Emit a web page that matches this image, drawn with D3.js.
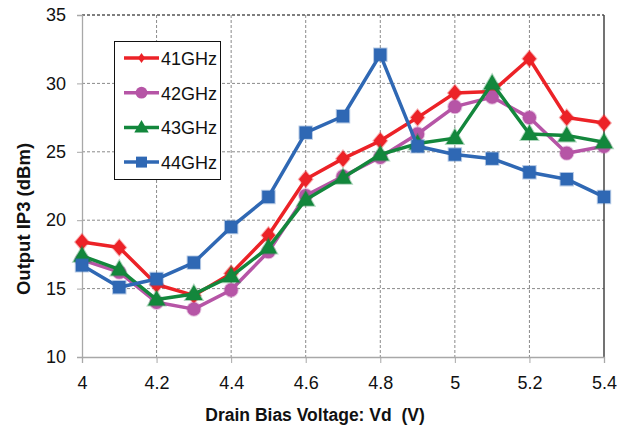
<!DOCTYPE html>
<html>
<head>
<meta charset="utf-8">
<script src="https://cdn.jsdelivr.net/npm/d3@7"></script>
<style>
  body { margin: 0; background: #fff; }
  svg text { font-family: "Liberation Sans", Arial, sans-serif; white-space: pre; }
</style>
</head>
<body>
<svg id="chart" width="631" height="445"></svg>
<script>
// drain voltage points
var vd = [4.0, 4.1, 4.2, 4.3, 4.4, 4.5, 4.6, 4.7, 4.8, 4.9, 5.0, 5.1, 5.2, 5.3, 5.4];

var ip3_41 = [18.4, 18.0, 15.3, 14.5, 16.1, 18.9, 23.0, 24.5, 25.8, 27.5, 29.3, 29.4, 31.8, 27.5, 27.1];
var ip3_42 = [17.1, 16.2, 14.0, 13.5, 14.9, 17.7, 21.8, 23.2, 24.6, 26.3, 28.3, 29.0, 27.5, 24.9, 25.4];
var ip3_43 = [17.4, 16.4, 14.2, 14.6, 15.9, 18.0, 21.5, 23.1, 24.8, 25.6, 26.0, 30.0, 26.3, 26.2, 25.7];
var ip3_44 = [16.7, 15.1, 15.7, 16.9, 19.5, 21.7, 26.4, 27.6, 32.1, 25.4, 24.8, 24.5, 23.5, 23.0, 21.7];

var seriesNames = ["41GHz", "42GHz", "43GHz", "44GHz"];
var seriesColors = ["#ec2227", "#b655a6", "#13873c", "#2f68b4"];
var seriesShapes = ["diamond", "circle", "triangle", "square"];

var xTicks = [4, 4.2, 4.4, 4.6, 4.8, 5, 5.2, 5.4];
var yTicks = [10, 15, 20, 25, 30, 35];

var series = [ip3_41, ip3_42, ip3_43, ip3_44].map(function (vals, i) {
    return {
        name: seriesNames[i],
        color: seriesColors[i],
        shape: seriesShapes[i],
        values: vals.map(function (v, j) { return { x: vd[j], y: v }; })
    };
});

var svg = d3.select("#chart");
var pLeft = 82, pTop = 15, pRight = 604, pBottom = 357;

var x = d3.scaleLinear().domain([4, 5.4]).range([pLeft, pRight]);
var y = d3.scaleLinear().domain([10, 35]).range([pBottom, pTop]);

// grid
var grid = svg.append("g");
grid.selectAll(".hg").data(yTicks.filter(function (d) { return d > 10; }))
    .enter().append("line")
    .attr("x1", pLeft).attr("x2", pRight)
    .attr("y1", function (d) { return y(d); }).attr("y2", function (d) { return y(d); })
    .attr("stroke", function (d) { return d == 35 ? "#555" : "#8a8a8a"; })
    .attr("stroke-width", function (d) { return d == 35 ? 1.3 : 1; })
    .attr("stroke-dasharray", "3,2");
grid.selectAll(".vg").data(xTicks.filter(function (d) { return d > 4; }))
    .enter().append("line")
    .attr("y1", pTop).attr("y2", pBottom)
    .attr("x1", function (d) { return x(d); }).attr("x2", function (d) { return x(d); })
    .attr("stroke", function (d) { return d == 5.4 ? "#444" : "#8a8a8a"; })
    .attr("stroke-width", function (d) { return d == 5.4 ? 1.5 : 1; })
    .attr("stroke-dasharray", function (d) { return d == 5.4 ? null : "3,2"; });

// axes
var yAxis = svg.append("g").attr("transform", "translate(" + pLeft + ",0)")
    .call(d3.axisLeft(y).tickValues(yTicks).tickSize(5).tickPadding(11));
var xAxis = svg.append("g").attr("transform", "translate(0," + pBottom + ")")
    .call(d3.axisBottom(x).tickValues(xTicks).tickSize(6).tickPadding(13)
        .tickFormat(function (d) { return d3.format("")(+d.toFixed(1)); }));
[yAxis, xAxis].forEach(function (ax) {
    ax.select(".domain").attr("stroke", "#a8a8a8").attr("stroke-width", 1.3);
    ax.selectAll(".tick line").attr("stroke", "#a8a8a8");
    ax.selectAll(".tick text").attr("fill", "#111").style("font-size", "18px");
});

// titles
svg.append("text")
    .attr("x", 315).attr("y", 421)
    .attr("text-anchor", "middle")
    .style("font-size", "17.5px").style("font-weight", "bold")
    .attr("fill", "#111")
    .text("Drain Bias Voltage: Vd  (V)");
svg.append("text")
    .attr("transform", "translate(30,219) rotate(-90)")
    .attr("text-anchor", "middle")
    .style("font-size", "18.5px").style("font-weight", "bold")
    .attr("fill", "#111")
    .text("Output IP3 (dBm)");

// diamond a bit wider than d3's own
function diamondType(hw, hh) {
    return {
        draw: function (ctx) {
            ctx.moveTo(0, -hh); ctx.lineTo(hw, 0); ctx.lineTo(0, hh); ctx.lineTo(-hw, 0); ctx.closePath();
        }
    };
}

function symbolFor(shape) {
    if (shape == "diamond") return d3.symbol().type(diamondType(6.8, 8));
    if (shape == "circle") return d3.symbol().type(d3.symbolCircle).size(140);
    if (shape == "triangle") return d3.symbol().type(d3.symbolTriangle).size(130);
    return d3.symbol().type(d3.symbolSquare).size(155);
}

var line = d3.line().x(function (d) { return x(d.x); }).y(function (d) { return y(d.y); });

series.forEach(function (s) {
    var g = svg.append("g");
    g.append("path")
        .datum(s.values)
        .attr("fill", "none")
        .attr("stroke", s.color)
        .attr("stroke-width", 3.5)
        .attr("stroke-linejoin", "round")
        .attr("d", line);
    g.selectAll("path.mk").data(s.values).enter().append("path")
        .attr("class", "mk")
        .attr("transform", function (d) {
            var dy = s.shape == "triangle" ? 1 : 0;
            return "translate(" + x(d.x) + "," + (y(d.y) + dy) + ")";
        })
        .attr("d", symbolFor(s.shape))
        .attr("fill", s.color)
        .attr("stroke", s.color)
        .attr("stroke-opacity", 0.35)
        .attr("stroke-width", 2);
});

// legend
var legend = svg.append("g");
legend.append("rect")
    .attr("x", 114.5).attr("y", 41.5).attr("width", 106).attr("height", 138)
    .attr("fill", "#fff").attr("stroke", "#111").attr("stroke-width", 1);
series.forEach(function (s, i) {
    var ly = 58 + i * 34.7;
    legend.append("line")
        .attr("x1", 124).attr("x2", 159).attr("y1", ly).attr("y2", ly)
        .attr("stroke", s.color).attr("stroke-width", 3.5);
    legend.append("path")
        .attr("transform", "translate(141.5," + (ly + (s.shape == "triangle" ? 1 : 0)) + ")")
        .attr("d", s.shape == "diamond" ? d3.symbol().type(diamondType(3.5, 5))
            : s.shape == "circle" ? d3.symbol().type(d3.symbolCircle).size(110)
            : s.shape == "triangle" ? d3.symbol().type(d3.symbolTriangle).size(90)
            : d3.symbol().type(d3.symbolSquare).size(120))
        .attr("fill", s.color);
    legend.append("text")
        .attr("x", 161).attr("y", ly + 7)
        .style("font-size", "18px")
        .attr("fill", "#111")
        .text(s.name);
});
</script>
</body>
</html>
